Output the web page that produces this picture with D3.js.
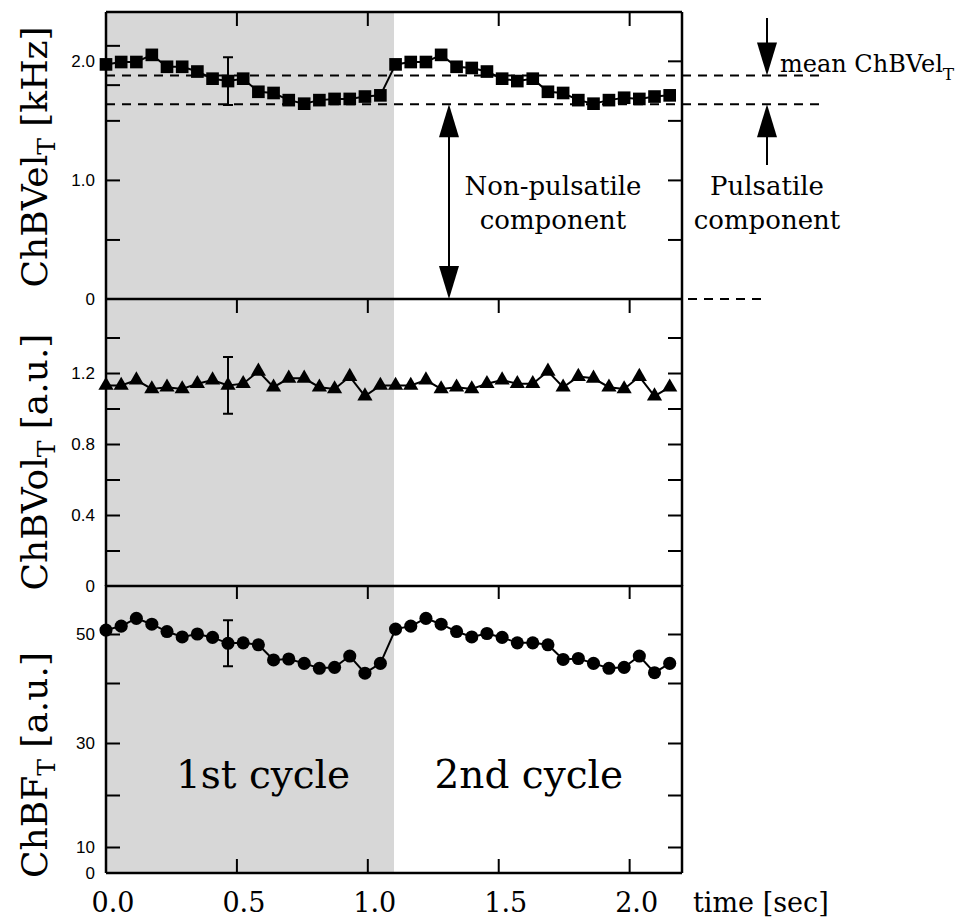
<!DOCTYPE html>
<html>
<head>
<meta charset="utf-8">
<script src="https://d3js.org/d3.v7.min.js"></script>
<style>
body { margin: 0; background: #fff; }
.serif { font-family: "DejaVu Serif", "Liberation Serif", serif; fill: #000; }
.tick text { font-family: "Liberation Sans", Arial, sans-serif; font-size: 17px; fill: #000; }
</style>
</head>
<body>
<div id="chart"></div>
<script>
// sample times (sec), 19 samples per heart cycle
var times = [0.000, 0.058, 0.116, 0.175, 0.233, 0.291, 0.349, 0.407, 0.466, 0.524,
             0.582, 0.640, 0.698, 0.757, 0.815, 0.873, 0.931, 0.989, 1.048,
             1.106, 1.164, 1.222, 1.280, 1.339, 1.397, 1.455, 1.513, 1.571, 1.630,
             1.688, 1.746, 1.804, 1.862, 1.921, 1.979, 2.037, 2.095, 2.153];

// ChBVel_T [kHz]
var velocity = [1.97, 1.99, 1.99, 2.05, 1.95, 1.95, 1.91, 1.85, 1.83, 1.85,
                1.74, 1.73, 1.67, 1.64, 1.67, 1.68, 1.68, 1.70, 1.71,
                1.97, 1.99, 1.99, 2.05, 1.95, 1.94, 1.91, 1.85, 1.83, 1.85,
                1.74, 1.73, 1.67, 1.64, 1.67, 1.69, 1.68, 1.70, 1.71];

// ChBVol_T [a.u.]
var volume = [1.13, 1.13, 1.16, 1.11, 1.12, 1.11, 1.14, 1.16, 1.13, 1.14,
              1.21, 1.12, 1.17, 1.17, 1.12, 1.11, 1.18, 1.07, 1.13,
              1.13, 1.13, 1.16, 1.11, 1.12, 1.11, 1.14, 1.16, 1.14, 1.14,
              1.21, 1.12, 1.18, 1.17, 1.12, 1.11, 1.18, 1.07, 1.12];

// ChBF_T [a.u.]
var flow = [50.8, 51.6, 53.2, 52.0, 50.5, 49.4, 50.0, 49.3, 48.1, 48.2,
            47.8, 44.7, 44.9, 44.0, 43.0, 43.2, 45.5, 42.0, 44.0,
            51.0, 51.6, 53.2, 52.0, 50.5, 49.4, 50.1, 49.3, 48.2, 48.2,
            47.8, 44.8, 45.0, 44.0, 43.0, 43.2, 45.5, 42.1, 44.0];

// one error bar per panel, at sample 8
var errIndex = 8;
var velErr = 0.20, volErr = 0.16, flowErr = 4.7;

var meanVel = 1.876, minVel = 1.636;
var firstCycleEnd = 1.1;

var xTicks = [0.5, 1.0, 1.5, 2.0];
var xLabels = [0.0, 0.5, 1.0, 1.5, 2.0];

var velTickMarksLeft = [0.5, 1.0, 1.5, 1.8, 2.13];
var velTickMarksRight = [0.5, 1.0, 1.5, 2.0];
var velLabels = [0, 1.0, 2.0];
var volTickMarks = [0.2, 0.4, 0.6, 0.8, 1.0, 1.2, 1.4];
var volLabels = [0, 0.4, 0.8, 1.2];
var flowTickMarks = [10, 20, 30, 40, 50];
var flowLabels = [0, 10, 30, 50];

var W = 962, H = 924;
var svg = d3.select("#chart").append("svg")
    .attr("width", W).attr("height", H)
    .style("background", "#fff");

var x = d3.scaleLinear().domain([0, 2.2]).range([106, 682]);

var yVel = d3.scaleLinear().domain([0, 2.41]).range([299, 12]);
var yVol = d3.scaleLinear().domain([0, 1.617]).range([586, 299]);
// the flow axis of the original is not evenly spaced
var yFlow = d3.scaleLinear().domain([0, 10, 30, 40, 60]).range([873, 847, 743, 683, 585]);

// shaded first cycle
svg.append("rect")
    .attr("x", x(0)).attr("y", yVel(2.41))
    .attr("width", x(firstCycleEnd) - x(0))
    .attr("height", yFlow(0) - yVel(2.41))
    .attr("fill", "#d7d7d7");

// dashed reference lines
svg.append("g").selectAll("line")
    .data([meanVel, minVel]).join("line")
    .attr("x1", x(0)).attr("x2", 820)
    .attr("y1", d => yVel(d)).attr("y2", d => yVel(d))
    .attr("stroke", "#000").attr("stroke-width", 2)
    .attr("stroke-dasharray", "9,7");
svg.append("line")
    .attr("x1", x(2.2) + 6).attr("x2", 762)
    .attr("y1", yVel(0)).attr("y2", yVel(0))
    .attr("stroke", "#000").attr("stroke-width", 2)
    .attr("stroke-dasharray", "9,7");

function panel(y, values, err, tLeft, tRight, labels, shape, topEdge) {
  var g = svg.append("g");
  var yTop = y.range()[y.range().length - 1];
  var yBot = y.range()[0];

  // x ticks, inward from the top edge
  g.selectAll(".xt").data(xTicks).join("line")
      .attr("x1", d => x(d)).attr("x2", d => x(d))
      .attr("y1", yTop).attr("y2", yTop + 14)
      .attr("stroke", "#000").attr("stroke-width", 2);

  g.append("g").attr("transform", "translate(" + x(0) + ",0)")
      .call(d3.axisLeft(y).tickValues(tLeft).tickSize(-14).tickFormat(""))
      .call(a => a.select(".domain").remove())
      .selectAll("line").attr("stroke-width", 2);
  g.append("g").attr("transform", "translate(" + x(2.2) + ",0)")
      .call(d3.axisRight(y).tickValues(tRight).tickSize(-14).tickFormat(""))
      .call(a => a.select(".domain").remove())
      .selectAll("line").attr("stroke-width", 2);
  g.append("g").attr("transform", "translate(" + (x(0) - 8) + ",0)")
      .call(d3.axisLeft(y).tickValues(labels).tickSize(0)
            .tickFormat(d => d === 0 ? "0" : (d < 5 ? d3.format(".1f")(d) : d)))
      .call(a => a.select(".domain").remove());

  // frame
  g.append("line").attr("x1", x(0)).attr("x2", x(0)).attr("y1", yTop).attr("y2", yBot)
      .attr("stroke", "#000").attr("stroke-width", 2.5);
  g.append("line").attr("x1", x(2.2)).attr("x2", x(2.2)).attr("y1", yTop).attr("y2", yBot)
      .attr("stroke", "#000").attr("stroke-width", 2.5);
  g.append("line").attr("x1", x(0)).attr("x2", x(2.2)).attr("y1", yBot).attr("y2", yBot)
      .attr("stroke", "#000").attr("stroke-width", 2.5);
  if (topEdge) {
    g.append("line").attr("x1", x(0)).attr("x2", x(2.2)).attr("y1", yTop).attr("y2", yTop)
        .attr("stroke", "#000").attr("stroke-width", 2.5);
  }

  // series line
  var line = d3.line().x((d, i) => x(times[i])).y(d => y(d));
  g.append("path").datum(values).attr("d", line)
      .attr("fill", "none").attr("stroke", "#000").attr("stroke-width", 2);

  // error bar
  var ex = x(times[errIndex]), v = values[errIndex];
  g.append("path")
      .attr("d", "M" + ex + "," + y(v + err) + "V" + y(v - err) +
                 "M" + (ex - 5) + "," + y(v + err) + "H" + (ex + 5) +
                 "M" + (ex - 5) + "," + y(v - err) + "H" + (ex + 5))
      .attr("stroke", "#000").attr("stroke-width", 2).attr("fill", "none");

  // markers
  g.selectAll(".m").data(values).join("path")
      .attr("transform", (d, i) => "translate(" + x(times[i]) + "," + y(d) + ")")
      .attr("d", shape)
      .attr("fill", "#000");
}

var square = d3.symbol().type(d3.symbolSquare).size(160)();
var triangle = d3.symbol().type(d3.symbolTriangle).size(100)();
var circle = d3.symbol().type(d3.symbolCircle).size(135)();

panel(yVel, velocity, velErr, velTickMarksLeft, velTickMarksRight, velLabels, square, true);
panel(yVol, volume, volErr, volTickMarks, volTickMarks, volLabels, triangle, false);
panel(yFlow, flow, flowErr, flowTickMarks, flowTickMarks, flowLabels, circle, false);

// bottom x ticks (inward) and labels
svg.append("g").selectAll("line").data(xTicks).join("line")
    .attr("x1", d => x(d)).attr("x2", d => x(d))
    .attr("y1", yFlow(0)).attr("y2", yFlow(0) - 14)
    .attr("stroke", "#000").attr("stroke-width", 2);
svg.append("g").selectAll("text").data(xLabels).join("text")
    .attr("class", "serif")
    .attr("x", d => x(d) + 7).attr("y", 912)
    .attr("text-anchor", "middle").attr("font-size", 27)
    .text(d => d3.format(".1f")(d));
svg.append("text").attr("class", "serif")
    .attr("x", 693).attr("y", 912).attr("font-size", 27)
    .text("time [sec]");

// y titles
function yTitle(cx, cy, main, rest) {
  var t = svg.append("text").attr("class", "serif")
      .attr("transform", "translate(" + cx + "," + cy + ") rotate(-90)")
      .attr("text-anchor", "middle").attr("font-size", 36);
  t.append("tspan").text(main);
  t.append("tspan").attr("font-size", 25).attr("dy", 8).text("T");
  t.append("tspan").attr("dy", -8).text(rest);
}
yTitle(47, 157, "ChBVel", " [kHz]");
yTitle(47, 462, "ChBVol", " [a.u.]");
yTitle(47, 765, "ChBF", " [a.u.]");

// cycle labels
svg.append("text").attr("class", "serif")
    .attr("x", x(0.6)).attr("y", 788).attr("text-anchor", "middle").attr("font-size", 39)
    .text("1st cycle");
svg.append("text").attr("class", "serif")
    .attr("x", x(1.615)).attr("y", 788).attr("text-anchor", "middle").attr("font-size", 39)
    .text("2nd cycle");

// arrows
function arrowHead(px, py, dir) {
  // dir = -1 points up, +1 points down
  var len = 33, hw = 10;
  svg.append("path")
      .attr("d", "M" + px + "," + py + "L" + (px - hw) + "," + (py - dir * len) +
                 "L" + (px + hw) + "," + (py - dir * len) + "Z")
      .attr("fill", "#000");
}
var ax = x(1.31);
svg.append("line").attr("x1", ax).attr("x2", ax)
    .attr("y1", yVel(minVel) + 10).attr("y2", yVel(0) - 10)
    .attr("stroke", "#000").attr("stroke-width", 2);
arrowHead(ax, yVel(minVel), -1);
arrowHead(ax, yVel(0), 1);

var rx = 767;
svg.append("line").attr("x1", rx).attr("x2", rx).attr("y1", 18).attr("y2", yVel(meanVel) - 20)
    .attr("stroke", "#000").attr("stroke-width", 2);
arrowHead(rx, yVel(meanVel), 1);
svg.append("line").attr("x1", rx).attr("x2", rx).attr("y1", yVel(minVel) + 20).attr("y2", 165)
    .attr("stroke", "#000").attr("stroke-width", 2);
arrowHead(rx, yVel(minVel), -1);

var mt = svg.append("text").attr("class", "serif")
    .attr("x", 780).attr("y", 72).attr("font-size", 24);
mt.append("tspan").text("mean ChBVel");
mt.append("tspan").attr("font-size", 17).attr("dy", 8).text("T");

function twoLine(cx, l1, l2) {
  svg.append("text").attr("class", "serif").attr("x", cx).attr("y", 195)
      .attr("text-anchor", "middle").attr("font-size", 26).text(l1);
  svg.append("text").attr("class", "serif").attr("x", cx).attr("y", 229)
      .attr("text-anchor", "middle").attr("font-size", 26).text(l2);
}
twoLine(553, "Non-pulsatile", "component");
twoLine(767, "Pulsatile", "component");
</script>
</body>
</html>
